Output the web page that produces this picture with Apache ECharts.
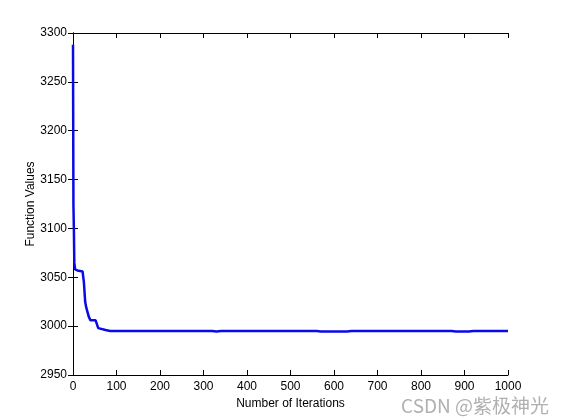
<!DOCTYPE html>
<html>
<head>
<meta charset="utf-8">
<script src="https://cdn.jsdelivr.net/npm/echarts@6/dist/echarts.min.js"></script>
<style>html,body{margin:0;padding:0;background:#fff;}#c{width:561px;height:420px;}</style>
</head>
<body>
<div id="c"></div>
<script>
// Data
var iterations = [0, 1, 2, 3, 5, 10, 22, 25, 28, 30, 33, 36, 40, 52, 55, 58, 62, 75, 85, 200, 320, 330, 340, 560, 570, 630, 640, 870, 880, 910, 920, 1000];
var functionValues = [3288, 3124, 3100, 3065, 3058, 3057, 3056, 3045, 3025, 3020, 3018, 3010, 3006, 3006, 3004, 2998, 2997, 2996, 2995, 2995, 2995, 2994.6, 2995, 2995, 2994.6, 2994.6, 2995, 2995, 2994.6, 2994.6, 2995, 2995];
var xTicks = [0, 100, 200, 300, 400, 500, 600, 700, 800, 900, 1000];
var yTicks = [2950, 3000, 3050, 3100, 3150, 3200, 3250, 3300];
var xTitle = 'Number of Iterations';
var yTitle = 'Function Values';
var watermark = 'CSDN @紫极神光';

var seriesData = iterations.map(function (x, i) { return [x, functionValues[i]]; });
var font = 'Liberation Sans, Arial, sans-serif';
var plain = function (v) { return String(v); };

var chart = echarts.init(document.getElementById('c'), null, {renderer: 'canvas'});
var axisCommon = {
  type: 'value',
  axisLine: {show: true, lineStyle: {color: '#000', width: 1}},
  axisTick: {show: true, inside: true, length: 5, lineStyle: {color: '#000'}},
  splitLine: {show: false}
};
chart.setOption({
  animation: false,
  backgroundColor: '#fff',
  grid: {left: 73, top: 33, right: 53, bottom: 45, containLabel: false},
  xAxis: [
    Object.assign({}, axisCommon, {
      min: xTicks[0], max: xTicks[xTicks.length - 1], interval: 100,
      position: 'bottom',
      axisLabel: {color: '#000', fontSize: 12, fontFamily: font, margin: 6, formatter: plain},
      name: xTitle, nameLocation: 'middle', nameGap: 22,
      nameTextStyle: {color: '#000', fontSize: 12, fontFamily: font}
    }),
    Object.assign({}, axisCommon, {
      min: xTicks[0], max: xTicks[xTicks.length - 1], interval: 100,
      position: 'top', axisLabel: {show: false}
    })
  ],
  yAxis: [
    Object.assign({}, axisCommon, {
      min: yTicks[0], max: yTicks[yTicks.length - 1], interval: 50,
      position: 'left',
      axisLabel: {color: '#000', fontSize: 12, fontFamily: font, margin: 6, formatter: plain},
      name: yTitle, nameLocation: 'middle', nameGap: 36, nameRotate: 90,
      nameMoveOverlap: false,
      nameTextStyle: {color: '#000', fontSize: 12, fontFamily: font}
    }),
    Object.assign({}, axisCommon, {
      min: yTicks[0], max: yTicks[yTicks.length - 1], interval: 50,
      position: 'right', axisLabel: {show: false}
    })
  ],
  series: [{
    type: 'line',
    data: seriesData,
    xAxisIndex: 0, yAxisIndex: 0,
    showSymbol: false,
    lineStyle: {color: '#0a0ae6', width: 2.5},
    clip: true
  }],
  graphic: [{
    type: 'text',
    right: 12, bottom: 5,
    style: {text: watermark, fill: '#b0b0b0', fontSize: 19, fontFamily: 'Noto Sans CJK SC, sans-serif'}
  }]
});
</script>
</body>
</html>
